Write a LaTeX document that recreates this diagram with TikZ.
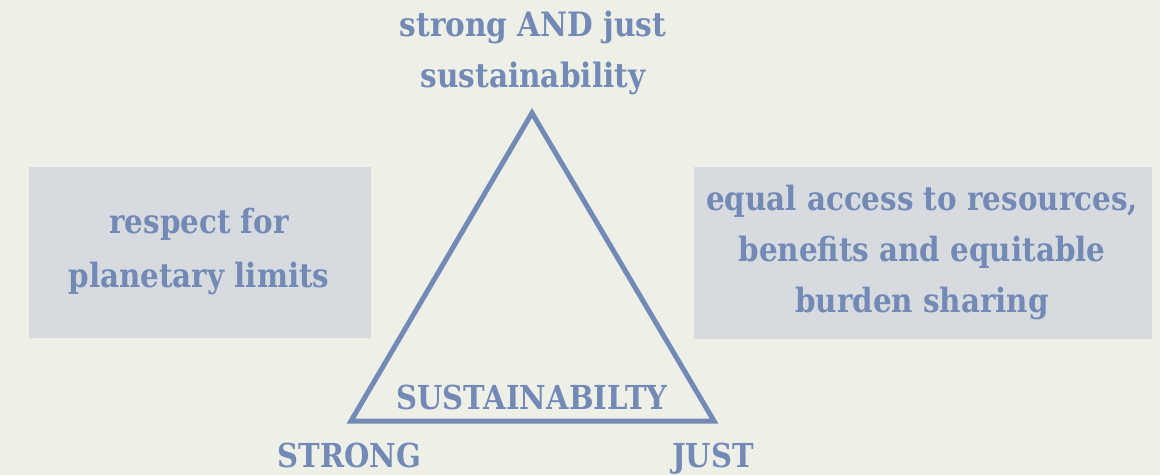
\documentclass[tikz,border=0pt]{standalone}
\usepackage{fontspec}
\setmainfont{DejaVu Serif}
\newfontfamily\lblfont[FakeStretch=0.88]{DejaVu Serif}
\definecolor{bgc}{HTML}{EEEFE7}
\definecolor{boxc}{HTML}{D7DADE}
\definecolor{ink}{HTML}{738AB7}
\tikzset{
  lbl/.style={text=ink, font=\lblfont\fontsize{33.6}{50.5}\selectfont\bfseries, inner sep=0pt, anchor=base, align=center},
  caps/.style={lbl, font=\lblfont\fontsize{33}{40}\selectfont\bfseries},
  panel/.style={fill=boxc, draw=none},
  tri/.style={draw=ink, line width=5pt, line join=miter}
}
\begin{document}
\begin{tikzpicture}[x=1pt,y=-1pt]
\fill[bgc] (0,0) rectangle (1160,475);
\useasboundingbox (0,0) rectangle (1160,475);
\fill[panel] (29,167) rectangle (371,338);
\fill[panel] (694,167) rectangle (1152,339);
\coordinate (apex) at (532,113);
\coordinate (bl) at (351,421);
\coordinate (br) at (714,421);
\draw[tri] (apex) -- (bl) -- (br) -- cycle;
\node[lbl] (top) at (533,87) {strong AND just\\sustainability};
\node[lbl, font=\lblfont\fontsize{33.4}{54}\selectfont\bfseries] (left) at (199,287) {respect for\\planetary limits};
\node[lbl, font=\lblfont\fontsize{33.4}{51}\selectfont\bfseries] (right) at (922,312) {equal access to resources,\\benefits and equitable\\burden sharing};
\node[caps] (sus) at (532,409) {SUSTAINABILTY};
\node[caps] (strong) at (349.5,467) {STRONG};
\node[caps] (just) at (713,467) {JUST};
\end{tikzpicture}
\end{document}
